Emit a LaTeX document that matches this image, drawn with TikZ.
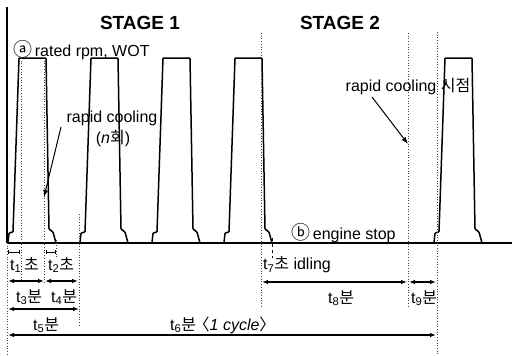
\documentclass[tikz,border=0pt]{standalone}
\usepackage{fontspec}
\setmainfont{Liberation Sans}
\newfontfamily\kr{Noto Sans CJK KR}
\usetikzlibrary{arrows.meta}
\newcommand{\circled}[1]{{\kr\fontsize{19}{19}\selectfont\raisebox{-0.5pt}{#1}}}
\begin{document}
\begin{tikzpicture}[x=1pt,y=-1pt,
  wave/.style={line width=1.5pt, line join=round, rounded corners=0.8pt},
  axisline/.style={line width=1.2pt},
  guide/.style={black!75, dotted, line width=0.7pt},
  dimarrow/.style={{Latex[length=6pt,width=4.5pt]}-{Latex[length=6pt,width=4.5pt]}, line width=1.1pt},
  tickdim/.style={{Bar[width=4pt]}-{Bar[width=4pt]}, line width=0.9pt},
  pointer/.style={-{Latex[length=7pt,width=5pt]}, line width=1pt},
  lbl/.style={inner sep=0pt, anchor=west, font=\fontsize{16}{18}\selectfont},
  title/.style={inner sep=0pt, font=\fontsize{19}{22}\selectfont\bfseries}]
\useasboundingbox (0,0) rectangle (512,356);

% axes
\coordinate (axtop) at (7,7);
\coordinate (origin) at (7,243);
\coordinate (baseend) at (512,243);
\draw[axisline] (axtop) -- (origin);
\draw[axisline] (origin) -- (baseend);

% pulses
\foreach \L in {8,80,152,224,434}{
  \draw[wave] (\L,243) -- (\L+1,233) -- (\L+5,232) -- (\L+11,58) -- (\L+38,58)
    -- (\L+41,229) -- (\L+45,232) -- (\L+48,243);
}

% guides
\coordinate (g0a) at (7,243);   \coordinate (g0b) at (7,356);
\coordinate (g1a) at (21,58);   \coordinate (g1b) at (21,282);
\coordinate (g2a) at (44,58);   \coordinate (g2b) at (44,284);
\coordinate (g3a) at (56,240);  \coordinate (g3b) at (56,258);
\coordinate (g4a) at (79,214);  \coordinate (g4b) at (79,325);
\coordinate (g5a) at (261,33);  \coordinate (g5b) at (261,307);
\coordinate (g6a) at (408,33);  \coordinate (g6b) at (408,307);
\coordinate (g7a) at (437,32);  \coordinate (g7b) at (437,356);
\foreach \g in {0,...,7}{ \draw[guide] (g\g a) -- (g\g b); }
\coordinate (t7a) at (272,238); \coordinate (t7b) at (272,258);
\draw[dashed, line width=0.8pt] (t7a) -- (t7b);

% titles
\node[title] (st1) at (140,23) {STAGE 1};
\node[title] (st2) at (340,23) {STAGE 2};

% labels
\node[lbl] (rated) at (13,50) {\circled{ⓐ}\,rated rpm, WOT};
\node[lbl] (stop) at (291,233) {\circled{ⓑ}\,engine stop};
\node[lbl, anchor=center] (rc1) at (112,118) {rapid cooling};
\node[lbl, anchor=center] (rc1n) at (113,139) {(\textit{n}{\kr 회})};
\node[lbl, anchor=center] (rc2) at (408,87) {rapid cooling {\kr 시점}};

\coordinate (p1s) at (61,127); \coordinate (p1e) at (44,197);
\coordinate (p2s) at (372,97); \coordinate (p2e) at (408,144);
\draw[pointer] (p1s) -- (p1e);
\draw[pointer] (p2s) -- (p2e);

% dimension lines
\coordinate (d1a) at (8,252);   \coordinate (d1b) at (20,252);
\coordinate (d2a) at (46,252);  \coordinate (d2b) at (56,252);
\draw[tickdim] (d1a) -- (d1b);
\draw[tickdim] (d2a) -- (d2b);
\coordinate (d3a) at (8,281);   \coordinate (d3b) at (44,281);
\coordinate (d4a) at (45,281);  \coordinate (d4b) at (78,281);
\coordinate (d5a) at (8,309);   \coordinate (d5b) at (79,309);
\coordinate (d6a) at (8,335);   \coordinate (d6b) at (436,335);
\coordinate (d8a) at (262,282); \coordinate (d8b) at (407,282);
\coordinate (d9a) at (409,282); \coordinate (d9b) at (436,282);
\foreach \d in {3,4,5,6,8,9}{ \draw[dimarrow] (d\d a) -- (d\d b); }

\node[lbl] (t1) at (10,265) {t\textsubscript{1}\,{\kr 초}};
\node[lbl] (t2) at (48,265) {t\textsubscript{2}{\kr 초}};
\node[lbl] (t3) at (16,297) {t\textsubscript{3}{\kr 분}};
\node[lbl] (t4) at (51,297) {t\textsubscript{4}{\kr 분}};
\node[lbl] (t5) at (33,325) {t\textsubscript{5}{\kr 분}};
\node[lbl] (t6) at (170,325) {t\textsubscript{6}{\kr 분}\kern-0.15em{\kr 〈}\textit{1 cycle}{\kr 〉}};
\node[lbl] (t7) at (263,265) {t\textsubscript{7}{\kr 초} idling};
\node[lbl] (t8) at (328,298) {t\textsubscript{8}{\kr 분}};
\node[lbl] (t9) at (411,298) {t\textsubscript{9}{\kr 분}};
\end{tikzpicture}
\end{document}
